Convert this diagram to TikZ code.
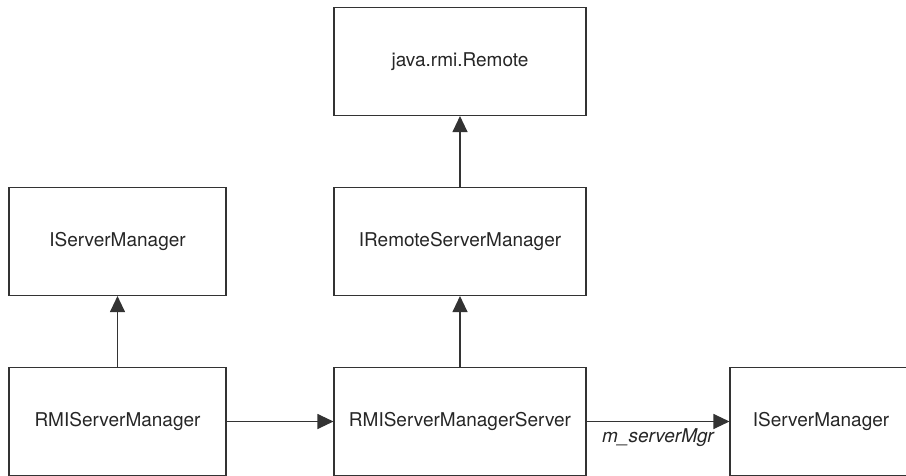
\documentclass[tikz,border=0pt]{standalone}
\usepackage{fontspec}
\setmainfont{TeX Gyre Heros}
\usetikzlibrary{arrows.meta}

\tikzset{
  cls/.style={draw=black!80, line width=1.1pt, text=black!85,
    font=\fontsize{19}{23}\selectfont, minimum height=108pt},
  wide/.style={cls, minimum width=252pt},
  narrow/.style={cls, minimum width=217pt},
  link/.style={-{Triangle[length=16pt,width=15pt]}, draw=black!80, line width=1.1pt}
}

\begin{document}
\begin{tikzpicture}[x=1pt,y=-1pt]
    \useasboundingbox (0,0) rectangle (906,476);

    % top row
    \node[wide] (remote) at (460,61.5) {java.rmi.Remote};

    % middle row
    \node[narrow] (imgr) at (117.5,241.5) {IServerManager};
    \node[wide] (iremote) at (460,241.5) {IRemoteServerManager};

    % bottom row
    \node[narrow] (rmimgr) at (117.5,421.5) {RMIServerManager};
    \node[wide] (rmisrv) at (460,421.5) {RMIServerManagerServer};
    \node[cls, minimum width=182pt] (imgrR) at (821,421.5) {IServerManager};

    \draw[link] (iremote) -- (remote);
    \draw[link] (rmimgr) -- (imgr);
    \draw[link] (rmisrv) -- (iremote);
    \draw[link] (rmimgr) -- (rmisrv);
    \draw[link] (rmisrv) -- node[below=3pt, text=black!85, font=\fontsize{19}{23}\itshape] {m\_serverMgr} (imgrR);
\end{tikzpicture}
\end{document}
